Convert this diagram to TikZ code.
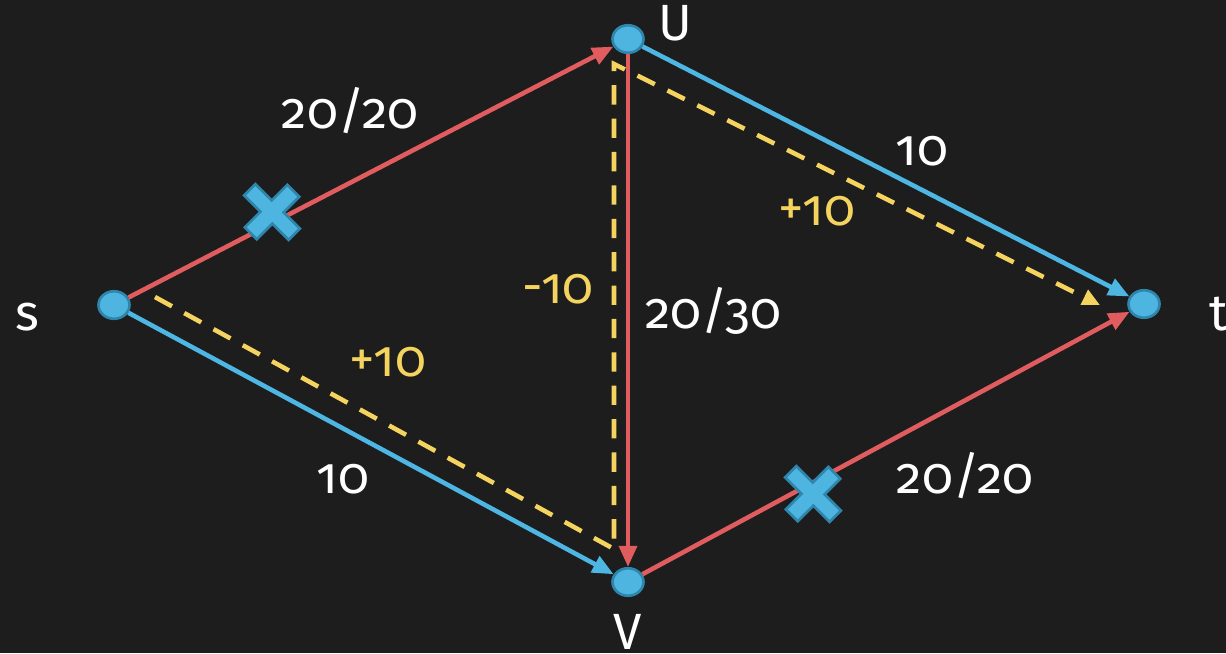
\documentclass[tikz,border=0pt]{standalone}
\usepackage{fontspec}
\setmainfont[Numbers=OldStyle]{Fira Sans}
\usetikzlibrary{arrows.meta,shapes.geometric}
\definecolor{bg}{HTML}{1D1D1D}
\definecolor{ered}{HTML}{E05C5E}
\definecolor{eblue}{HTML}{4DB6E2}
\definecolor{nfill}{HTML}{4DB5E0}
\definecolor{nborder}{HTML}{2F86AC}
\definecolor{eyellow}{HTML}{F4D35E}
\tikzset{
  vert/.style={ellipse, draw=nborder, line width=1.5pt, fill=nfill, minimum width=0.62cm, minimum height=0.55cm, inner sep=0pt},
  lab/.style={font=\fontsize{29}{34}\selectfont, text=white, inner sep=0pt, anchor=base},
  ylab/.style={lab, text=eyellow},
  redge/.style={draw=ered, line width=2.6pt, -{Triangle[length=12pt,width=10pt]}},
  bedge/.style={draw=eblue, line width=2.6pt, -{Triangle[length=12pt,width=10pt]}},
  aug/.style={draw=eyellow, line width=2.6pt, dash pattern=on 11pt off 8pt, -{Triangle[length=10pt,width=9pt]}},
  crossmark/.pic={
    \filldraw[fill=nfill, draw=nborder, line width=1.5pt, rotate=45, yscale=1.05]
      (8,30) -- (8,8) -- (30,8) -- (30,-8) -- (8,-8) -- (8,-30) -- (-8,-30) -- (-8,-8) -- (-30,-8) -- (-30,8) -- (-8,8) -- (-8,30) -- cycle;
  }
}
\begin{document}
\begin{tikzpicture}[x=0.02cm, y=-0.02cm]
\fill[bg] (0,0) rectangle (1226,653);
\useasboundingbox (0,0) rectangle (1226,653);

\node[vert] (s) at (114,305) {};
\node[vert] (u) at (628,39) {};
\node[vert] (v) at (628,582) {};
\node[vert] (t) at (1144,304) {};

\coordinate (a1) at (155,297);
\coordinate (a2) at (614,549);
\coordinate (a3) at (614,64);
\coordinate (a4) at (1100,305);

\draw[aug] (a1) -- (a2) -- (a3) -- (a4);

\draw[redge] (s) -- (u);
\draw[bedge] (u) -- (t);
\draw[bedge] (s) -- (v);
\draw[redge] (v) -- (t);
\draw[redge] (u) -- (v);

\pic at (272,212) {crossmark};
\pic at (813,494) {crossmark};

\node[lab] (l1) at (350,128) {20/20};
\node[lab] (l2) at (922,165) {10};
\node[ylab] (l3) at (817,225) {+10};
\node[ylab] (l4) at (558,303) {-10};
\node[lab] (l5) at (713,328) {20/30};
\node[ylab] (l6) at (388,376) {+10};
\node[lab] (l7) at (343,493) {10};
\node[lab] (l8) at (965,493) {20/20};

\node[lab] (nu) at (675,40) {U};
\node[lab] (nv) at (628,649) {V};
\node[lab] (ns) at (27,330) {s};
\node[lab] (nt) at (1219,330) {t};
\end{tikzpicture}
\end{document}
